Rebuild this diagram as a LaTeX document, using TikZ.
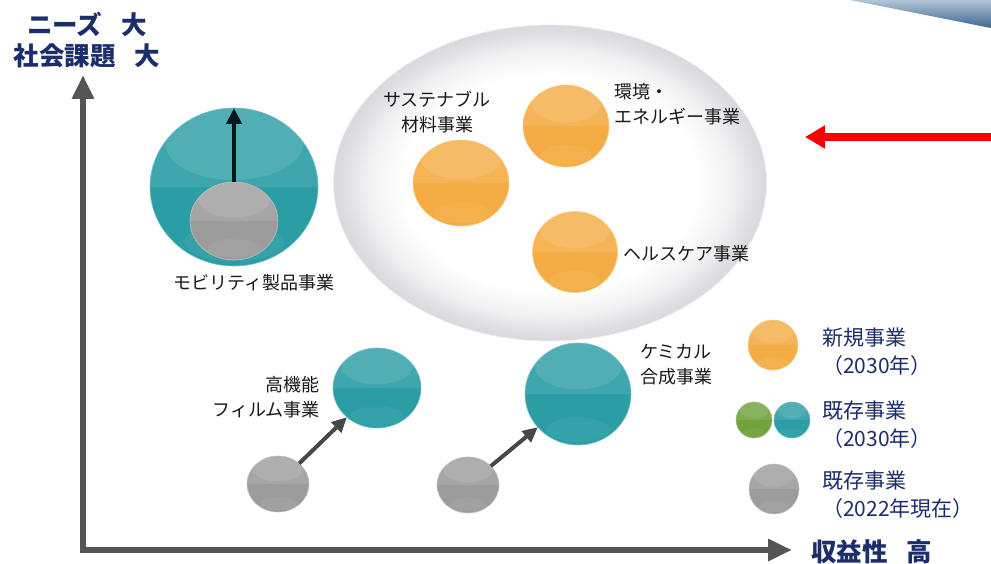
\documentclass[tikz,border=0pt]{standalone}
\usepackage{fontspec}
\setmainfont{Noto Sans CJK JP}
\usetikzlibrary{arrows.meta,shapes.geometric,calc}
\definecolor{orangeS}{HTML}{F4AD45}
\definecolor{tealS}{HTML}{2B9DA5}
\definecolor{grayS}{HTML}{9C9C9C}
\definecolor{greenS}{HTML}{71A23C}
\definecolor{navy}{HTML}{1B2D6B}
\definecolor{axisc}{HTML}{555555}
\definecolor{ringg}{HTML}{D9D9DE}
\definecolor{blueL}{HTML}{B3C4D7}
\definecolor{blueD}{HTML}{3B6590}
\pgfdeclareradialshading{bigring}{\pgfpoint{0bp}{0bp}}{color(0bp)=(white); color(17bp)=(white); color(21bp)=(ringg!35); color(24bp)=(ringg!90); color(25bp)=(ringg); color(50bp)=(ringg)}
\tikzset{
  sphere/.style={ellipse, inner sep=0pt, outer sep=0pt, draw=#1!65!white, line width=0.6pt,
    fill=#1,
    path picture={
      \fill[white,opacity=0.10] (path picture bounding box.north west) rectangle (path picture bounding box.east);
      \fill[white,opacity=0.09] let \p1=($(path picture bounding box.north east)-(path picture bounding box.south west)$) in
        ($(path picture bounding box.center)!0.55!(path picture bounding box.north)$) ellipse [x radius={0.41*abs(\x1)}, y radius={0.23*abs(\y1)}];
      \fill[white,opacity=0.05] let \p1=($(path picture bounding box.north east)-(path picture bounding box.south west)$) in
        ($(path picture bounding box.center)!0.7!(path picture bounding box.south)$) ellipse [x radius={0.3*abs(\x1)}, y radius={0.12*abs(\y1)}];
    }},
  lab/.style={inner sep=0pt, font=\fontsize{18}{25}\selectfont, text=black!90},
  legtxt/.style={inner sep=0pt, anchor=west, align=left, font=\fontsize{21}{28}\selectfont, text=navy},
  axlab/.style={inner sep=0pt, align=center, font=\fontsize{25.5}{31}\selectfont\bfseries, text=navy},
  axisline/.style={draw=axisc, line width=6pt, line join=miter},
  growarrow/.style={draw=black!72, line width=4pt, -{Triangle[length=15pt,width=14pt]}},
  mobarrow/.style={draw=black!85!tealS, line width=4.5pt, -{Triangle[length=16pt,width=15pt]}},
  redarrow/.style={draw=red, line width=8pt, -{Triangle[length=20pt,width=22pt]}}
}
\begin{document}
\begin{tikzpicture}[x=1pt,y=-1pt]
\useasboundingbox (0,0) rectangle (991,564);
% top-right decoration
\shade[top color=blueL, bottom color=blueD] (850,0) -- (991,0) -- (991,28) -- cycle;
% axes
\coordinate (O) at (83,550);
\coordinate (ytop) at (83,75);
\coordinate (xend) at (792,550);
\draw[axisline, {Triangle[length=24pt,width=21pt]}-{Triangle[length=24pt,width=21pt]}] (ytop) -- (O) -- (xend);
\node[axlab] (ylab) at (87,40) {ニーズ\hspace{.75em}大\\社会課題\hspace{.75em}大};
\node[axlab, anchor=west] (xlab) at (811,552) {収益性\hspace{.75em}高};
% big cloud ellipse
\node[ellipse, minimum width=433pt, minimum height=316pt, shading=bigring, draw=ringg!50, line width=0.8pt] (cloud) at (550,183) {};
% new businesses
\node[sphere=orangeS, minimum width=96pt, minimum height=86pt] (sus) at (461,183) {};
\node[sphere=orangeS, minimum width=86pt, minimum height=82pt] (env) at (566,126) {};
\node[sphere=orangeS, minimum width=85pt, minimum height=81pt] (hc) at (575,252) {};
\node[lab, align=center] (suslab) at (437,112) {サステナブル\\材料事業};
\node[lab, align=left, anchor=west] (envlab) at (614,104) {環境・\\エネルギー事業};
\node[lab, anchor=west] (hclab) at (623,254) {ヘルスケア事業};
% mobility
\node[sphere=tealS, minimum width=168pt, minimum height=158pt] (mob) at (234,187) {};
\node[sphere=grayS, minimum width=88pt, minimum height=78pt] (mobg) at (234,221) {};
\draw[mobarrow] (mobg.north) -- (mob.north);
\node[lab] (moblab) at (254,283) {モビリティ製品事業};
% film
\node[sphere=tealS, minimum width=88pt, minimum height=80pt] (film) at (377,388) {};
\node[sphere=grayS, minimum width=62pt, minimum height=56pt] (filmg) at (278,484) {};
\draw[growarrow] (filmg) -- (film);
\node[lab, align=right, anchor=east] (filmlab) at (320,397) {高機能\\フィルム事業};
% chemical
\node[sphere=tealS, minimum width=106pt, minimum height=102pt] (chem) at (578,394) {};
\node[sphere=grayS, minimum width=62pt, minimum height=56pt] (chemg) at (468,485) {};
\draw[growarrow] (chemg) -- (chem);
\node[lab, align=left, anchor=west] (chemlab) at (640,365) {ケミカル\\合成事業};
% red arrow
\coordinate (rstart) at (991,137);
\coordinate (rtip) at (805,137);
\draw[redarrow] (rstart) -- (rtip);
% legend
\node[sphere=orangeS, minimum width=50pt, minimum height=50pt] (leg1) at (773,345) {};
\node[sphere=greenS, minimum width=36pt, minimum height=36pt] (leg2g) at (754,420) {};
\node[sphere=tealS, minimum width=36pt, minimum height=36pt] (leg2t) at (792,420) {};
\node[sphere=grayS, minimum width=50pt, minimum height=50pt] (leg3) at (774,489) {};
\node[legtxt] (leg1t) at (822,352) {新規事業\\（2030年）};
\node[legtxt] (leg2tx) at (822,425) {既存事業\\（2030年）};
\node[legtxt] (leg3t) at (822,495) {既存事業\\（2022年現在）};
\end{tikzpicture}
\end{document}
